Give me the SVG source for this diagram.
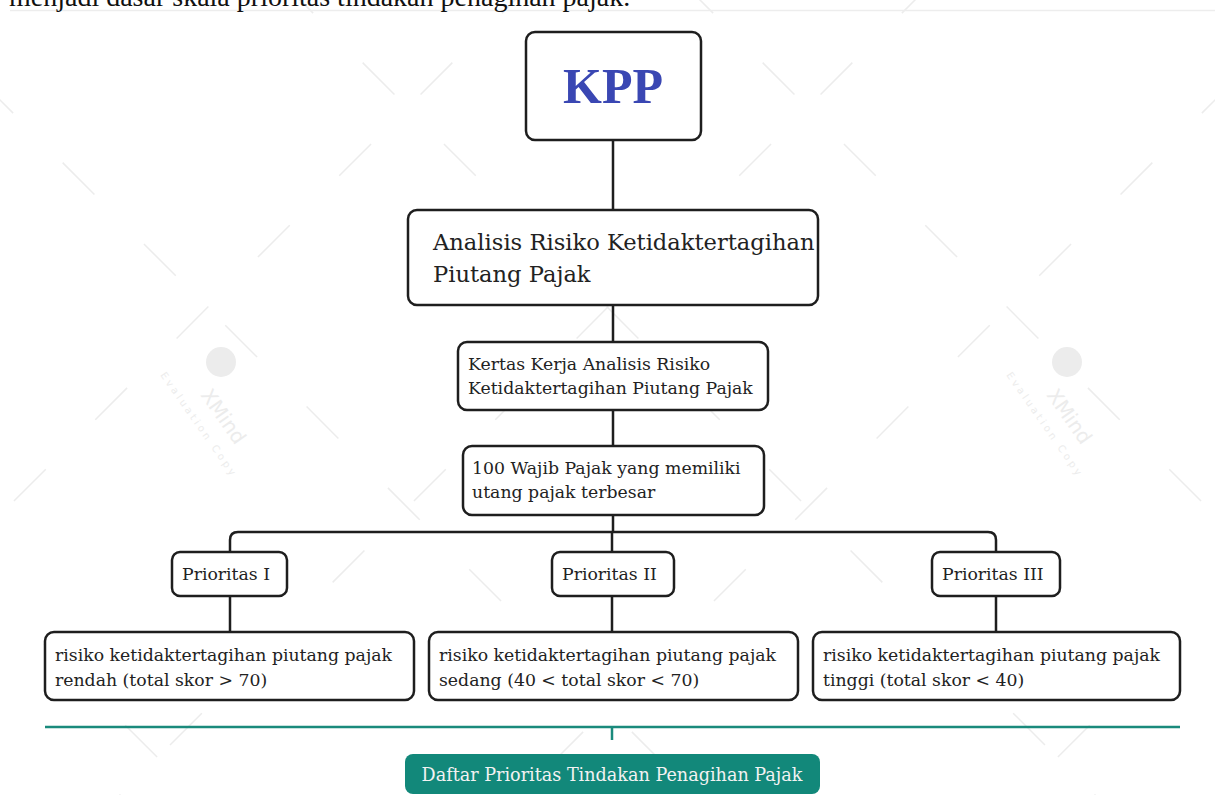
<svg xmlns="http://www.w3.org/2000/svg" width="1215" height="795" viewBox="0 0 1215 795">
<style>
.box{fill:#fff;stroke:#1e1e1e;stroke-width:2.5}
.con{fill:none;stroke:#1e1e1e;stroke-width:2.5}
.t{font-family:"DejaVu Serif","Liberation Serif",serif;fill:#222}
.s{font-size:17.3px}
.wm{stroke:#ececec;stroke-width:1.5;stroke-dasharray:45 70;fill:none}
</style>
<rect width="1215" height="795" fill="#fff"/>
<g id="watermark">
<path class="wm" d="M-100 0 L700 800 M200 -100 L1100 800 M600 -100 L1400 700 M-200 400 L300 900 M1315 0 L515 800 M1015 -100 L115 800 M615 -100 L-185 700 M1415 400 L915 900"/>
<circle cx="221" cy="362" r="15" fill="#ececec"/>
<circle cx="1067" cy="362" r="15" fill="#ececec"/>
<text x="200" y="395" transform="rotate(55 200 395)" font-family="DejaVu Sans,sans-serif" font-size="20" fill="#ececec">XMind</text>
<text x="160" y="375" transform="rotate(55 160 375)" font-family="DejaVu Sans,sans-serif" font-size="10" letter-spacing="3" fill="#ececec">Evaluation Copy</text>
<text x="1046" y="395" transform="rotate(55 1046 395)" font-family="DejaVu Sans,sans-serif" font-size="20" fill="#ececec">XMind</text>
<text x="1006" y="375" transform="rotate(55 1006 375)" font-family="DejaVu Sans,sans-serif" font-size="10" letter-spacing="3" fill="#ececec">Evaluation Copy</text>
</g>
<line x1="10" y1="10.5" x2="1215" y2="10.5" stroke="#ededed" stroke-width="1.5"/>
<text x="9" y="6" font-family="Liberation Serif,serif" font-size="28" fill="#111">menjadi dasar skala prioritas tindakan penagihan pajak.</text>

<g id="connectors">
<path class="con" d="M613 140 V210 M613 305 V342 M613 410 V446 M613 515 V532"/>
<path class="con" d="M230 552 V540 Q230 532 238 532 H988 Q996 532 996 540 V552"/>
<path class="con" d="M612 532 V552"/>
<path class="con" d="M230 596 V632 M612 596 V632 M996 596 V632"/>
<line x1="45" y1="727" x2="1180" y2="727" stroke="#1a8a7c" stroke-width="2.5"/>
<line x1="612" y1="727" x2="612" y2="740" stroke="#1a8a7c" stroke-width="2.5"/>
</g>

<g id="kpp">
<rect class="box" x="526" y="32" width="175" height="108" rx="9"/>
<text x="613" y="103" text-anchor="middle" font-family="Liberation Serif,serif" font-size="50" font-weight="bold" fill="#3a47b3">KPP</text>
</g>
<g id="analisis">
<rect class="box" x="408" y="210" width="410" height="95" rx="9"/>
<text class="t" x="433" y="250" font-size="22.6">Analisis Risiko Ketidaktertagihan</text>
<text class="t" x="433" y="282" font-size="22.6">Piutang Pajak</text>
</g>
<g id="kertas">
<rect class="box" x="458" y="342" width="310" height="68" rx="9"/>
<text class="t s" x="468" y="370">Kertas Kerja Analisis Risiko</text>
<text class="t s" x="468" y="394">Ketidaktertagihan Piutang Pajak</text>
</g>
<g id="wajib">
<rect class="box" x="463" y="446" width="301" height="69" rx="9"/>
<text class="t s" x="472" y="474">100 Wajib Pajak yang memiliki</text>
<text class="t s" x="472" y="498">utang pajak terbesar</text>
</g>
<g id="p1">
<rect class="box" x="172" y="552" width="115" height="44" rx="8"/>
<text class="t s" x="182" y="580">Prioritas I</text>
</g>
<g id="p2">
<rect class="box" x="552" y="552" width="122" height="44" rx="8"/>
<text class="t s" x="562" y="580">Prioritas II</text>
</g>
<g id="p3">
<rect class="box" x="932" y="552" width="128" height="44" rx="8"/>
<text class="t s" x="942" y="580">Prioritas III</text>
</g>
<g id="r1">
<rect class="box" x="45" y="632" width="369" height="68" rx="9"/>
<text class="t s" x="55" y="661">risiko ketidaktertagihan piutang pajak</text>
<text class="t s" x="55" y="686">rendah (total skor &gt; 70)</text>
</g>
<g id="r2">
<rect class="box" x="429" y="632" width="369" height="68" rx="9"/>
<text class="t s" x="439" y="661">risiko ketidaktertagihan piutang pajak</text>
<text class="t s" x="439" y="686">sedang (40 &lt; total skor &lt; 70)</text>
</g>
<g id="r3">
<rect class="box" x="813" y="632" width="367" height="68" rx="9"/>
<text class="t s" x="823" y="661">risiko ketidaktertagihan piutang pajak</text>
<text class="t s" x="823" y="686">tinggi (total skor &lt; 40)</text>
</g>
<g id="daftar">
<rect x="405" y="754" width="415" height="40" rx="8" fill="#12887a"/>
<text x="612" y="781" text-anchor="middle" font-family="DejaVu Serif,Liberation Serif,serif" font-size="17.6" fill="#f2f2f2">Daftar Prioritas Tindakan Penagihan Pajak</text>
</g>
</svg>
